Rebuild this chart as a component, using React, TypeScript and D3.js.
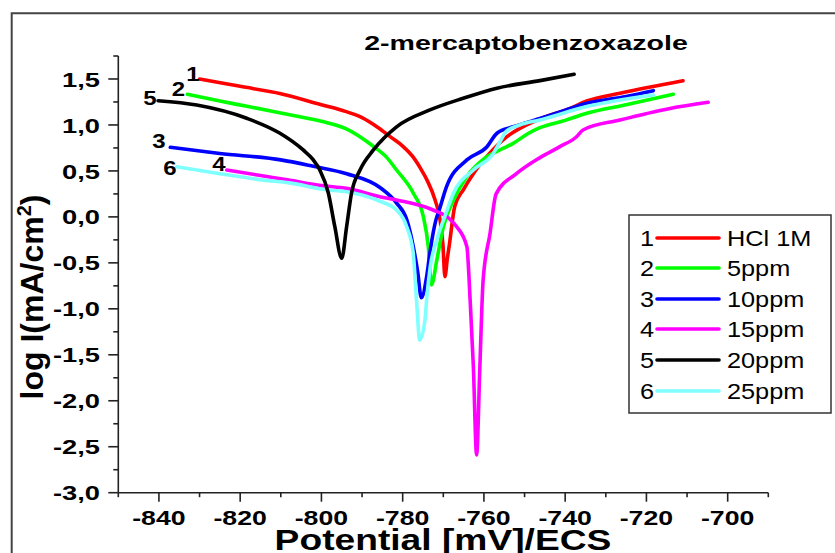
import React from 'react';
import * as d3 from 'd3';

const FONT = "'Liberation Sans', Arial, Helvetica, sans-serif";

// ---- data (potential mV/ECS, log I mA/cm2) ----
const hclX = [-830, -820, -810, -800, -795, -790, -786, -783, -780, -777.5, -775.5, -774, -772, -770.8, -770.1, -769.6, -769.0, -768.5, -767.2, -765, -762.6, -759.3, -754.4, -749.5, -746, -738.8, -734.7, -726.5, -711];
const hclY = [1.50, 1.42, 1.34, 1.22, 1.16, 1.08, 0.97, 0.87, 0.77, 0.655, 0.52, 0.40, 0.18, -0.03, -0.30, -0.65, -0.45, -0.30, 0.11, 0.30, 0.47, 0.655, 0.87, 1.0, 1.07, 1.18, 1.26, 1.345, 1.48];

const p5X = [-833, -825, -818, -810, -800, -794, -787, -784, -781.5, -777.4, -774.9, -773.7, -772.9, -771.6, -770.0, -767.5, -764.2, -760, -756, -752.8, -749, -746.2, -740, -734.7, -725, -713.4];
const p5Y = [1.334, 1.26, 1.20, 1.13, 1.04, 0.96, 0.76, 0.65, 0.51, 0.26, 0.0, -0.32, -0.74, -0.47, -0.11, 0.18, 0.44, 0.63, 0.73, 0.80, 0.91, 0.97, 1.05, 1.127, 1.22, 1.334];

const p10X = [-837.2, -825, -810, -802, -793.8, -785.6, -781.5, -779.0, -777.4, -776.3, -775.4, -774.1, -773.2, -771.8, -771.0, -769.2, -764.2, -759.3, -756.8, -752.8, -746.2, -740, -734.7, -725, -718.3];
const p10Y = [0.757, 0.69, 0.62, 0.55, 0.47, 0.32, 0.15, -0.03, -0.32, -0.60, -0.88, -0.65, -0.36, -0.03, 0.075, 0.33, 0.62, 0.76, 0.91, 0.98, 1.07, 1.16, 1.235, 1.31, 1.373];

const p15X = [-823.3, -815, -808, -800, -793.8, -785.6, -781.5, -772.5, -768.5, -766.7, -764.2, -763.4, -762.6, -761.8, -761.0, -760.2, -758.5, -757, -752, -746.2, -741.3, -737.2, -735.6, -726.5, -714.2, -704.8];
const p15Y = [0.51, 0.45, 0.40, 0.34, 0.31, 0.22, 0.184, 0.075, -0.02, -0.107, -0.324, -0.90, -1.63, -2.59, -1.63, -0.69, -0.18, 0.25, 0.47, 0.645, 0.764, 0.872, 0.945, 1.054, 1.18, 1.247];

const p20X = [-840.2, -830.7, -818.4, -810.2, -804.5, -802, -800.4, -798.3, -796.7, -795.0, -793.8, -792.6, -790.5, -787.2, -781.5, -773.3, -765.1, -756.8, -746.2, -737.8];
const p20Y = [1.264, 1.217, 1.073, 0.909, 0.728, 0.62, 0.51, 0.26, -0.107, -0.45, -0.107, 0.257, 0.51, 0.728, 0.98, 1.163, 1.29, 1.40, 1.482, 1.551];

const p25X = [-835.6, -825, -814.3, -808, -797.9, -793.8, -785.6, -781.5, -779.0, -777.4, -776.6, -775.8, -774.5, -774.1, -773.2, -771.6, -769.5, -767.5, -762.6, -757.7, -756, -754.5, -751.2, -746.2, -734.7, -718.3];
const p25Y = [0.546, 0.47, 0.40, 0.37, 0.29, 0.274, 0.17, 0.075, -0.107, -0.396, -0.90, -1.34, -1.12, -0.90, -0.54, -0.25, 0.02, 0.257, 0.51, 0.69, 0.82, 0.93, 1.0, 1.054, 1.2, 1.326];

const seriesNames = ['HCl 1M', '5ppm', '10ppm', '15ppm', '20ppm', '25ppm'];
const seriesNums = ['1', '2', '3', '4', '5', '6'];
const seriesColors = ['#ff0000', '#00ff00', '#0000ff', '#ff00ff', '#000000', '#80ffff'];
const seriesXs = [hclX, p5X, p10X, p15X, p20X, p25X];
const seriesYs = [hclY, p5Y, p10Y, p15Y, p20Y, p25Y];
const drawOrder = [0, 1, 2, 3, 5, 4];

const xMajor = [-840, -820, -800, -780, -760, -740, -720, -700];
const yMajor = [-3, -2.5, -2, -1.5, -1, -0.5, 0, 0.5, 1, 1.5];
const xMinor = [-850, -830, -810, -790, -770, -750, -730, -710, -690];
const yMinor = [-2.75, -2.25, -1.75, -1.25, -0.75, -0.25, 0.25, 0.75, 1.25, 1.75];

const titleText = '2-mercaptobenzoxazole';
const xLabel = 'Potential [mV]/ECS';

const fmt = (v: number) => v.toFixed(1).replace('.', ',');

function SText(props: { x: number; y: number; sx?: number; anchor?: string; size: number; weight?: string | number; children: any; fill?: string }) {
  const { x, y, sx = 1, anchor = 'start', size, weight = 'normal', children, fill = '#000' } = props;
  return (
    <text
      transform={`translate(${x},${y}) scale(${sx},1)`}
      textAnchor={anchor}
      fontFamily={FONT}
      fontSize={size}
      fontWeight={weight}
      fill={fill}
    >
      {children}
    </text>
  );
}

export default function App() {
  const x = d3.scaleLinear().domain([-850, -690]).range([118.3, 768.3]);
  const y = d3.scaleLinear().domain([-3, 1.75]).range([492.7, 56]);
  const line = d3
    .line<[number, number]>()
    .x((d) => x(d[0]))
    .y((d) => y(d[1]))
    .curve(d3.curveMonotoneX);

  const axisColor = '#222';
  const legendRows = [238, 268, 299, 329, 360, 391];
  // label anchor positions for curve numbers 1..6
  const curveLabels: [number, number][] = [
    [193, 81],
    [178.5, 96],
    [159, 148],
    [219, 171],
    [150, 105],
    [170, 175],
  ];

  return (
    <svg
      width={835}
      height={553}
      style={{ position: 'absolute', left: 0, top: 0, background: '#fff' }}
    >
      <rect x={0} y={0} width={835} height={553} fill="#fff" />
      {/* outer frame */}
      <path d="M11.7,553 L11.7,13.3 L835,13.3" fill="none" stroke="#444" strokeWidth={2} />

      {/* title */}
      <SText x={526} y={50} sx={1.36} anchor="middle" size={21} weight="bold">
        {titleText}
      </SText>

      {/* curves */}
      {drawOrder.map((i) => {
        const pts: [number, number][] = seriesXs[i].map((v, k) => [v, seriesYs[i][k]]);
        return (
          <path
            key={i}
            d={line(pts) || ''}
            fill="none"
            stroke={seriesColors[i]}
            strokeWidth={3.6}
            strokeLinejoin="round"
            strokeLinecap="round"
          />
        );
      })}

      {/* curve number labels */}
      {seriesNums.map((n, i) => (
        <SText key={n} x={curveLabels[i][0]} y={curveLabels[i][1]} sx={1.2} anchor="middle" size={20} weight="bold">
          {n}
        </SText>
      ))}

      {/* axes */}
      <line x1={x(-850)} x2={x(-690)} y1={y(-3)} y2={y(-3)} stroke={axisColor} strokeWidth={1.6} />
      <line x1={x(-850)} x2={x(-850)} y1={y(-3)} y2={y(1.75)} stroke={axisColor} strokeWidth={1.6} />
      {xMajor.map((t) => (
        <g key={'xm' + t}>
          <line x1={x(t)} x2={x(t)} y1={y(-3)} y2={y(-3) + 9} stroke={axisColor} strokeWidth={1.6} />
          <SText x={x(t)} y={525} sx={1.27} anchor="middle" size={21} weight="bold">
            {String(t)}
          </SText>
        </g>
      ))}
      {xMinor.map((t) => (
        <line key={'xn' + t} x1={x(t)} x2={x(t)} y1={y(-3)} y2={y(-3) + 4.5} stroke={axisColor} strokeWidth={1.6} />
      ))}
      {yMajor.map((t) => (
        <g key={'ym' + t}>
          <line x1={x(-850) - 10} x2={x(-850)} y1={y(t)} y2={y(t)} stroke={axisColor} strokeWidth={1.6} />
          <SText x={100} y={y(t) + 7.6} sx={1.3} anchor="end" size={21} weight="bold">
            {fmt(t)}
          </SText>
        </g>
      ))}
      {yMinor.map((t) => (
        <line key={'yn' + t} x1={x(-850) - 5} x2={x(-850)} y1={y(t)} y2={y(t)} stroke={axisColor} strokeWidth={1.6} />
      ))}

      {/* axis titles */}
      <text
        transform="translate(43,297) rotate(-90)"
        textAnchor="middle"
        fontFamily={FONT}
        fontSize={32}
        fontWeight="bold"
      >
        <tspan>log I(mA/cm</tspan>
        <tspan fontSize={20} dy={-12}>2</tspan>
        <tspan dy={12}>)</tspan>
      </text>
      <SText x={443} y={550} sx={1.24} anchor="middle" size={30} weight="bold">
        {xLabel}
      </SText>

      {/* legend */}
      <rect x={629} y={215} width={202} height={198} fill="#fff" stroke="#333" strokeWidth={1.5} />
      {seriesNames.map((name, i) => (
        <g key={name}>
          <SText x={654} y={legendRows[i] + 8} sx={1.15} anchor="end" size={22}>
            {seriesNums[i]}
          </SText>
          <line x1={657} x2={719} y1={legendRows[i]} y2={legendRows[i]} stroke={seriesColors[i]} strokeWidth={3.6} strokeLinecap="round" />
          <SText x={727} y={legendRows[i] + 8} sx={1.15} size={22}>
            {name}
          </SText>
        </g>
      ))}
    </svg>
  );
}
